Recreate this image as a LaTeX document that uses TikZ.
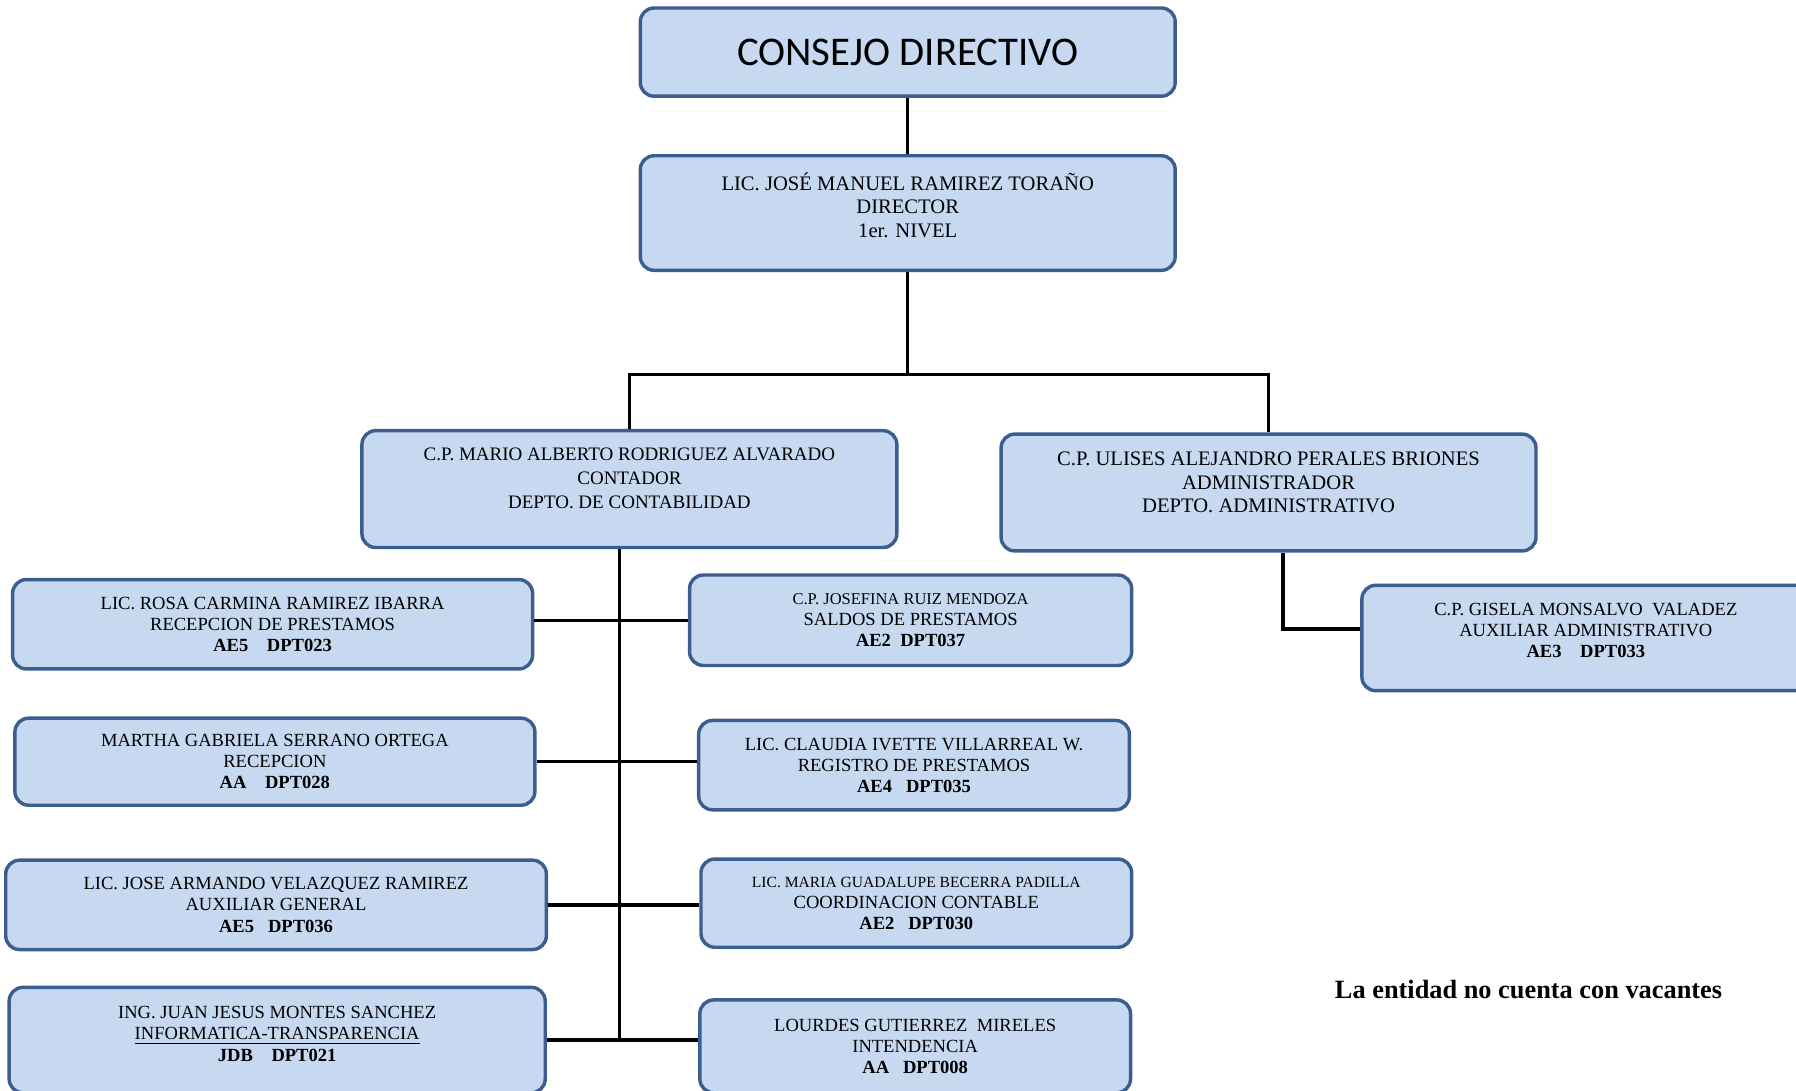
\documentclass[tikz,border=0pt]{standalone}
\usepackage{fontspec}
\setmainfont{Liberation Serif}
\newfontfamily\titlefont{Carlito}
\usepackage{tikz}
\usetikzlibrary{positioning,calc}
\definecolor{boxfill}{HTML}{C6D9F1}
\definecolor{boxline}{HTML}{3B5E8F}

\begin{document}
\begin{tikzpicture}
[x=0.5pt, y=-0.5pt, line width=1.5pt,
box/.style={rectangle, rounded corners=6pt, draw=boxline, fill=boxfill, line width=1.5pt, align=center, inner sep=0pt},
head/.style={box, font=\fontsize{9}{10.3}\selectfont},
staff/.style={box, font=\fontsize{8.1}{9.25}\selectfont},
link/.style={draw=black, line width=1.5pt}
]
\useasboundingbox (0,0) rectangle (1568,952);

\node[box, minimum width=233.5pt, minimum height=38.5pt, font=\titlefont\fontsize{17.8}{20}\selectfont] (consejo) at (792.5,45.5) {CONSEJO DIRECTIVO};
\node[head, minimum width=233.5pt, minimum height=50pt] (director) at (792.5,186) {LIC. JOSÉ MANUEL RAMIREZ TORAÑO\\DIRECTOR\\1er. NIVEL\\[-3.3pt]};

\node[head, font=\fontsize{8.3}{10.3}\selectfont, minimum width=233.5pt, minimum height=51pt] (contador) at (549.5,427) {C.P. MARIO ALBERTO RODRIGUEZ ALVARADO\\CONTADOR\\DEPTO. DE CONTABILIDAD\\[-0.8pt]};
\node[head, minimum width=233.5pt, minimum height=51pt] (admin) at (1107.5,430) {C.P. ULISES ALEJANDRO PERALES BRIONES\\ADMINISTRADOR\\DEPTO. ADMINISTRATIVO\\[-1.3pt]};

\node[staff, minimum width=227pt, minimum height=39pt] (rosa) at (238,545) {LIC. ROSA CARMINA RAMIREZ IBARRA\\RECEPCION DE PRESTAMOS\\\textbf{AE5~~~~DPT023}};
\node[staff, minimum width=193pt, minimum height=39.5pt] (josefina) at (795,541.5) {{\fontsize{7.2}{9}\selectfont C.P. JOSEFINA RUIZ MENDOZA}\\SALDOS DE PRESTAMOS\\\textbf{AE2~~DPT037}};
\node[staff, minimum width=195.5pt, minimum height=46pt] (gisela) at (1384.5,557) {C.P. GISELA MONSALVO~ VALADEZ\\AUXILIAR ADMINISTRATIVO\\\textbf{AE3~~~~DPT033}\\[-2.75pt]};

\node[staff, minimum width=227pt, minimum height=38pt] (martha) at (240,665) {MARTHA GABRIELA SERRANO ORTEGA\\RECEPCION\\\textbf{AA~~~~DPT028}};
\node[staff, minimum width=188pt, minimum height=39pt] (claudia) at (798,668) {LIC. CLAUDIA IVETTE VILLARREAL W.\\REGISTRO DE PRESTAMOS\\\textbf{AE4~~~DPT035}};

\node[staff, minimum width=236pt, minimum height=39pt] (jose) at (241,790) {LIC. JOSE ARMANDO VELAZQUEZ RAMIREZ\\AUXILIAR GENERAL\\\textbf{AE5~~~DPT036}};
\node[staff, minimum width=188pt, minimum height=38.5pt] (maria) at (800,788.5) {{\fontsize{6.8}{9}\selectfont LIC. MARIA GUADALUPE BECERRA PADILLA}\\COORDINACION CONTABLE\\\textbf{AE2~~~DPT030}};

\node[staff, minimum width=234pt, minimum height=46pt] (juan) at (242,908) {ING. JUAN JESUS MONTES SANCHEZ\\\underline{INFORMATICA-TRANSPARENCIA}\\\textbf{JDB~~~~DPT021}\\[-3.75pt]};
\node[staff, minimum width=188pt, minimum height=40.5pt] (lourdes) at (799,913.5) {LOURDES GUTIERREZ~ MIRELES\\INTENDENCIA\\\textbf{AA~~~DPT008}};

\node[font=\bfseries\fontsize{11.5}{13}\selectfont] (nota) at (1334.5,864) {La entidad no cuenta con vacantes};

\coordinate (ramal) at (795,327);
\coordinate (cbus) at (541,907);
\coordinate (abus) at (1120,549);

\draw[link] (consejo) -- (director);
\draw[link] (director) -- (director |- ramal);
\draw[link] (contador) |- (ramal) -| (admin);
\draw[link] (contador.south -| cbus) -- (cbus);
\draw[link] (rosa.east |- josefina) -- (josefina);
\draw[link] (martha) -- (claudia.west |- martha);
\draw[link] (jose) -- (maria.west |- jose);
\draw[link] (juan) -- (lourdes.west |- juan);
\draw[link] (admin.south -| abus) -- (abus) -- (gisela.west |- abus);
\end{tikzpicture}
\end{document}
